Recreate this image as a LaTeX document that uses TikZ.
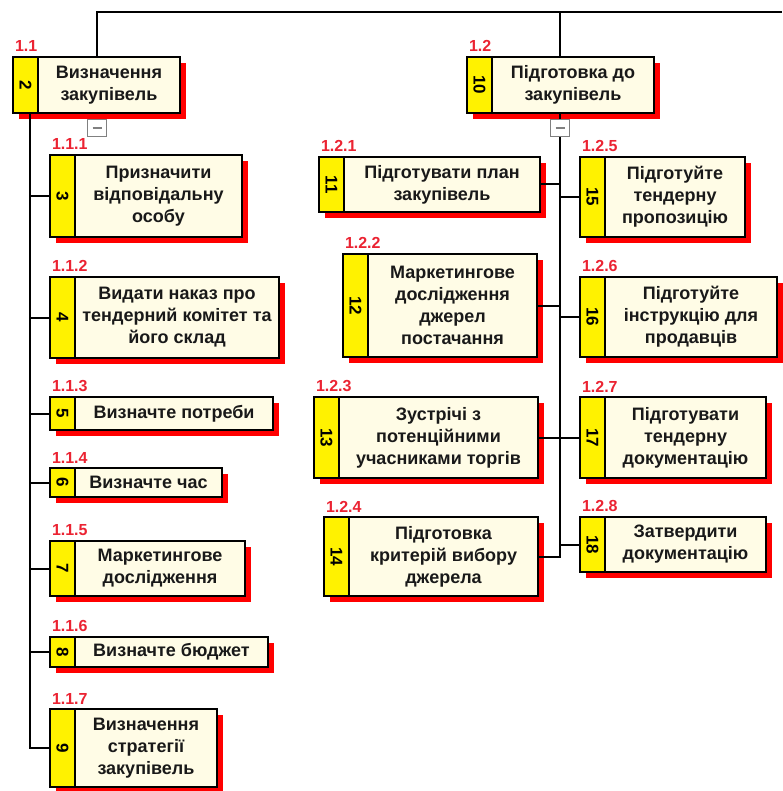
\documentclass[tikz,border=0pt]{standalone}
\usepackage{fontspec}
\setmainfont{Liberation Sans}
\usetikzlibrary{
		positioning,
		shadows
	}
\definecolor{cream}{RGB}{255,252,230}
\definecolor{codered}{RGB}{235,35,50}
\newcommand{\Num}[1]{\rotatebox{-90}{#1}}

\begin{document}
\begin{tikzpicture}[x=1pt, y=-1pt, line width=2pt,
				redshadow/.style={drop shadow={shadow xshift=6pt, shadow yshift=-6pt, fill=red, opacity=1}},
				strip/.style={draw, fill=yellow, redshadow, anchor=north west, minimum width=25, inner sep=0pt, outer sep=0pt, font=\fontsize{17}{17}\selectfont\bfseries},
				task/.style={draw, fill=cream, redshadow, inner sep=2pt, outer sep=0pt, align=center, text=black!90, font=\fontsize{18}{22}\selectfont\bfseries},
				code/.style={text=codered, anchor=south west, inner sep=1pt, yshift=3pt, font=\fontsize{16}{16}\selectfont\bfseries},
				minus/.style={draw=gray, fill=white, line width=1pt, minimum width=19, minimum height=17, inner sep=0pt,
					path picture={\draw[line width=2pt] ([xshift=-4.5pt]path picture bounding box.center) -- ([xshift=4.5pt]path picture bounding box.center);}}]
	\useasboundingbox (0,0) rectangle (782,791);
	% 1.1 and its tasks
	\node[strip, minimum height=56, label={[code]north west:1.1}] (n2) at (13,57) {\Num{2}};
	\node[task, minimum width=142, minimum height=56, right=0pt of n2] (t2) {Визначення\\закупівель};
	\node[strip, minimum height=82, label={[code]north west:1.1.1}] (n3) at (50,155) {\Num{3}};
	\node[task, minimum width=167, minimum height=82, right=0pt of n3] (t3) {Призначити\\відповідальну\\особу};
	\node[strip, minimum height=81, label={[code]north west:1.1.2}] (n4) at (50,277) {\Num{4}};
	\node[task, minimum width=204, minimum height=81, right=0pt of n4] (t4) {Видати наказ про\\тендерний комітет та\\його склад};
	\node[strip, minimum height=33, label={[code]north west:1.1.3}] (n5) at (50,397) {\Num{5}};
	\node[task, minimum width=198, minimum height=33, right=0pt of n5] (t5) {Визначте потреби};
	\node[strip, minimum height=29, label={[code]north west:1.1.4}] (n6) at (50,468) {\Num{6}};
	\node[task, minimum width=147, minimum height=29, right=0pt of n6] (t6) {Визначте час};
	\node[strip, minimum height=55, label={[code]north west:1.1.5}] (n7) at (50,541) {\Num{7}};
	\node[task, minimum width=170, minimum height=55, right=0pt of n7] (t7) {Маркетингове\\дослідження};
	\node[strip, minimum height=30, label={[code]north west:1.1.6}] (n8) at (50,637) {\Num{8}};
	\node[task, minimum width=193, minimum height=30, right=0pt of n8] (t8) {Визначте бюджет};
	\node[strip, minimum height=78, label={[code]north west:1.1.7}] (n9) at (50,709) {\Num{9}};
	\node[task, minimum width=142, minimum height=78, right=0pt of n9] (t9) {Визначення\\стратегії\\закупівель};
	% 1.2 and its tasks
	\node[strip, minimum height=56, label={[code]north west:1.2}] (n10) at (467,57) {\Num{10}};
	\node[task, minimum width=162, minimum height=56, right=0pt of n10] (t10) {Підготовка до\\закупівель};
	\node[strip, minimum height=55, label={[code]north west:1.2.1}] (n11) at (319,157) {\Num{11}};
	\node[task, minimum width=196, minimum height=55, right=0pt of n11] (t11) {Підготувати план\\закупівель};
	\node[strip, minimum height=103, label={[code]north west:1.2.2}] (n12) at (343,254) {\Num{12}};
	\node[task, minimum width=169, minimum height=103, right=0pt of n12] (t12) {Маркетингове\\дослідження\\джерел\\постачання};
	\node[strip, minimum height=81, label={[code]north west:1.2.3}] (n13) at (314,397) {\Num{13}};
	\node[task, minimum width=199, minimum height=81, right=0pt of n13] (t13) {Зустрічі з\\потенційними\\учасниками торгів};
	\node[strip, minimum height=79, label={[code]north west:1.2.4}] (n14) at (324,517) {\Num{14}};
	\node[task, minimum width=189, minimum height=79, right=0pt of n14] (t14) {Підготовка\\критерій вибору\\джерела};
	\node[strip, minimum height=80, label={[code]north west:1.2.5}] (n15) at (580,157) {\Num{15}};
	\node[task, minimum width=140, minimum height=80, right=0pt of n15] (t15) {Підготуйте\\тендерну\\пропозицію};
	\node[strip, minimum height=80, label={[code]north west:1.2.6}] (n16) at (580,277) {\Num{16}};
	\node[task, minimum width=172, minimum height=80, right=0pt of n16] (t16) {Підготуйте\\інструкцію для\\продавців};
	\node[strip, minimum height=81, label={[code]north west:1.2.7}] (n17) at (580,397) {\Num{17}};
	\node[task, minimum width=161, minimum height=81, right=0pt of n17] (t17) {Підготувати\\тендерну\\документацію};
	\node[strip, minimum height=55, label={[code]north west:1.2.8}] (n18) at (580,517) {\Num{18}};
	\node[task, minimum width=161, minimum height=55, right=0pt of n18] (t18) {Затвердити\\документацію};
	% connectors
	\coordinate (rootL) at (97,12);
	\coordinate (rootR) at (782,12);
	\coordinate (trunkL) at (30,12);
	\coordinate (trunkR) at (560,12);
	\draw (t2.north -| rootL) -- (rootL) -- (rootR);
	\draw (t10.north -| trunkR) -- (trunkR);
	\draw (n2.south -| trunkL) |- (n9.west);
	\foreach \i in {3,...,8}
		\draw (n\i.west) -- (n\i.west -| trunkL);
	\draw (t10.south -| trunkR) |- (t14.east);
	\foreach \i in {11,12}
		\draw (t\i.east) -- (t\i.east -| trunkR);
	\foreach \i in {15,16,18}
		\draw (n\i.west) -- (n\i.west -| trunkR);
	\draw (t13.east) -- (n17.west);
	\node[minus] (m2) at (97,128) {};
	\node[minus] (m10) at (560,128) {};
\end{tikzpicture}
\end{document}
